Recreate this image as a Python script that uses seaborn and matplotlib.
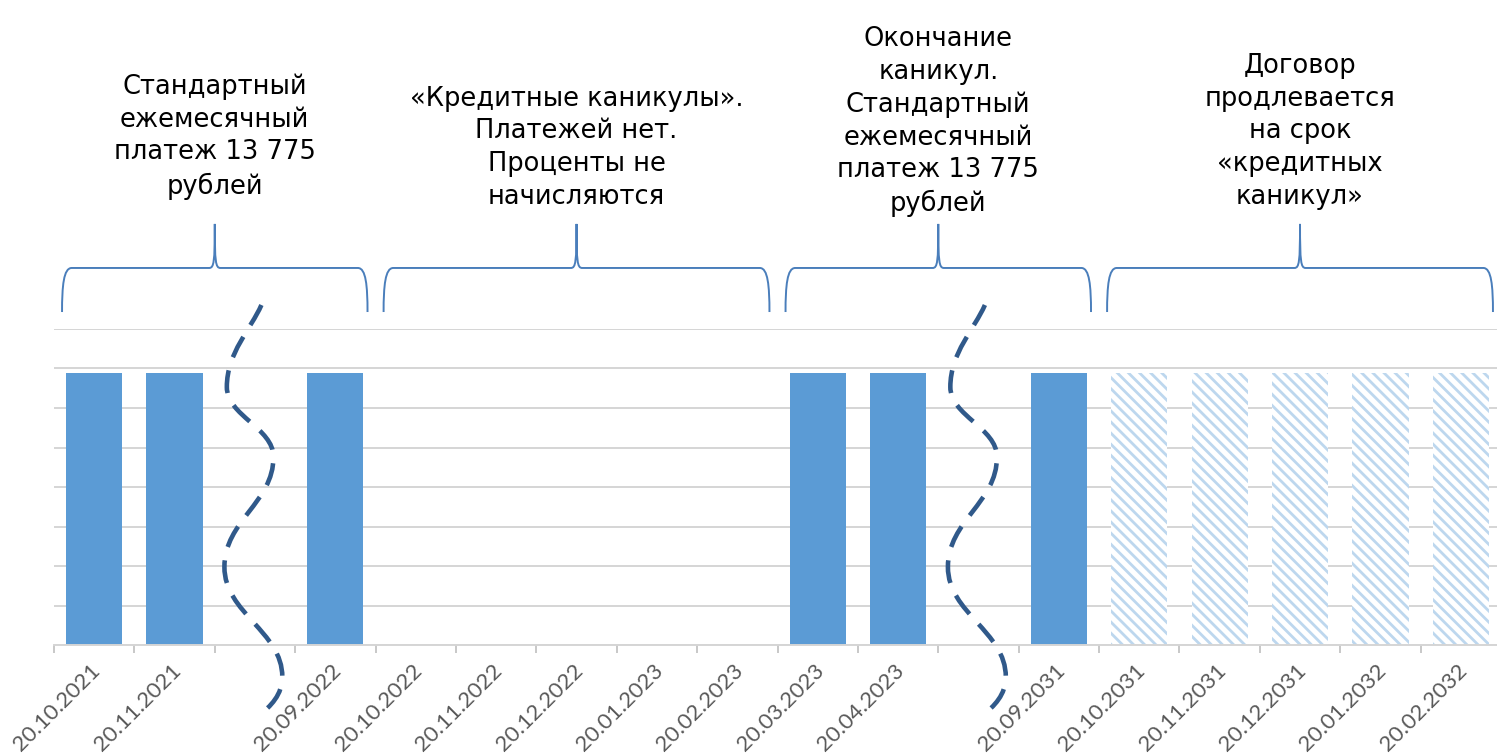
import numpy as np
import pandas as pd
import seaborn as sns
import matplotlib.pyplot as plt
from matplotlib.path import Path
from matplotlib.patches import PathPatch
from matplotlib.transforms import ScaledTranslation

# categories (two unlabelled gaps where the timeline is cut)
dates = ["20.10.2021", "20.11.2021", "", "20.09.2022", "20.10.2022", "20.11.2022",
         "20.12.2022", "20.01.2023", "20.02.2023", "20.03.2023", "20.04.2023", "",
         "20.09.2031", "20.10.2031", "20.11.2031", "20.12.2031", "20.01.2032", "20.02.2032"]
payment = [13775, 13775, 0, 13775, 0, 0, 0, 0, 0, 13775, 13775, 0,
           13775, 13775, 13775, 13775, 13775, 13775]
extended = [False] * 13 + [True] * 5
gaps = [2, 11]

# periods shown with braces: (first category, last category, caption)
periods = [
    (0, 3, "Стандартный\nежемесячный\nплатеж 13 775\nрублей"),
    (4, 8, "«Кредитные каникулы».\nПлатежей нет.\nПроценты не\nначисляются"),
    (9, 12, "Окончание\nканикул.\nСтандартный\nежемесячный\nплатеж 13 775\nрублей"),
    (13, 17, "Договор\nпродлевается\nна срок\n«кредитных\nканикул»"),
]
caption_bottom = [22550, 22050, 21650, 22050]

bar_blue = "#5b9bd5"
light_blue = "#bdd7ee"
brace_blue = "#4a7ebb"
wave_blue = "#30598a"

plt.rcParams["hatch.linewidth"] = 2.0
sns.set_style("white")
plt.rcParams["font.family"] = ["DejaVu Sans"]

fig = plt.figure(figsize=(14.97, 7.53), dpi=100)
ax = fig.add_axes([54 / 1497, 108 / 753, 1447 / 1497, 316 / 753])

df = pd.DataFrame({"pos": list(range(len(dates))), "value": payment})
sns.barplot(data=df, x="pos", y="value", color=bar_blue, width=0.7,
            saturation=1, ax=ax, errorbar=None)

for i, p in enumerate(ax.patches):
    p.set_linewidth(0)
    if extended[i]:
        p.set_facecolor("white")
        p.set_edgecolor(light_blue)
        p.set_hatch("\\\\\\")

ax.set_ylim(0, 16000)
ax.set_xlim(-0.5, len(dates) - 0.5)
ax.set_yticks(np.arange(0, 16001, 2000))
ax.set_yticklabels([])
ax.yaxis.grid(True, color="#d5d5d5", linewidth=1.4)
ax.set_axisbelow(True)
ax.tick_params(axis="y", length=0)
for s in ["left", "right", "top"]:
    ax.spines[s].set_visible(False)
ax.spines["bottom"].set_color("#d5d5d5")
ax.spines["bottom"].set_linewidth(1.4)

ax.set_xticks(range(len(dates)))
ax.set_xticklabels(dates, rotation=45, ha="right", rotation_mode="anchor",
                   color="#595959", fontsize=16, family="Lato")
ax.set_xticks(np.arange(-0.5, len(dates), 1), minor=True)
ax.tick_params(axis="x", which="major", length=0, pad=11)
ax.tick_params(axis="x", which="minor", length=6, width=1.2, color="#bfbfbf",
               direction="out", bottom=True)
shift = ScaledTranslation(-4 / 100, 0, fig.dpi_scale_trans)
for lab in ax.get_xticklabels():
    lab.set_transform(lab.get_transform() + shift)
ax.set_xlabel("")
ax.set_ylabel("")

# braces with captions
yb, yh, yp = 16860, 19090, 21320
for (a, b, text), tb in zip(periods, caption_bottom):
    x0, x1 = a - 0.4, b + 0.4
    xm = (x0 + x1) / 2
    verts = [(x0, yb), (x0, yh - 900), (x0 + 0.02, yh), (x0 + 0.12, yh),
             (xm - 0.07, yh),
             (xm - 0.01, yh), (xm, yh + 300), (xm, yp),
             (xm, yh + 300), (xm + 0.01, yh), (xm + 0.07, yh),
             (x1 - 0.12, yh),
             (x1 - 0.02, yh), (x1, yh - 900), (x1, yb)]
    codes = [Path.MOVETO, Path.CURVE4, Path.CURVE4, Path.CURVE4, Path.LINETO,
             Path.CURVE4, Path.CURVE4, Path.CURVE4,
             Path.CURVE4, Path.CURVE4, Path.CURVE4, Path.LINETO,
             Path.CURVE4, Path.CURVE4, Path.CURVE4]
    ax.add_patch(PathPatch(Path(verts, codes), facecolor="none", edgecolor=brace_blue,
                           linewidth=1.4, clip_on=False))
    ax.text(xm, tb, text, ha="center", va="bottom", multialignment="center",
            fontsize=18.5, color="black", linespacing=1.33, clip_on=False)

# dashed break lines in the gap categories
wave = [(0.08, 17215), (-0.05, 16000), (-0.35, 14800), (-0.35, 13063),
        (-0.35, 11600), (0.23, 11000), (0.23, 9519),
        (0.23, 7200), (-0.38, 6300), (-0.38, 3949),
        (-0.38, 1600), (0.34, 700), (0.34, -1620),
        (0.34, -2500), (0.2, -3100), (0.04, -3600)]
wave_codes = [Path.MOVETO] + [Path.CURVE4] * 15
for g in gaps:
    pts = [(g + dx, y) for dx, y in wave]
    ax.add_patch(PathPatch(Path(pts, wave_codes), facecolor="none", edgecolor=wave_blue,
                           linewidth=3.3, linestyle=(0, (5, 3)), capstyle="butt",
                           clip_on=False, zorder=5))

fig.savefig("out.png", dpi=100)
